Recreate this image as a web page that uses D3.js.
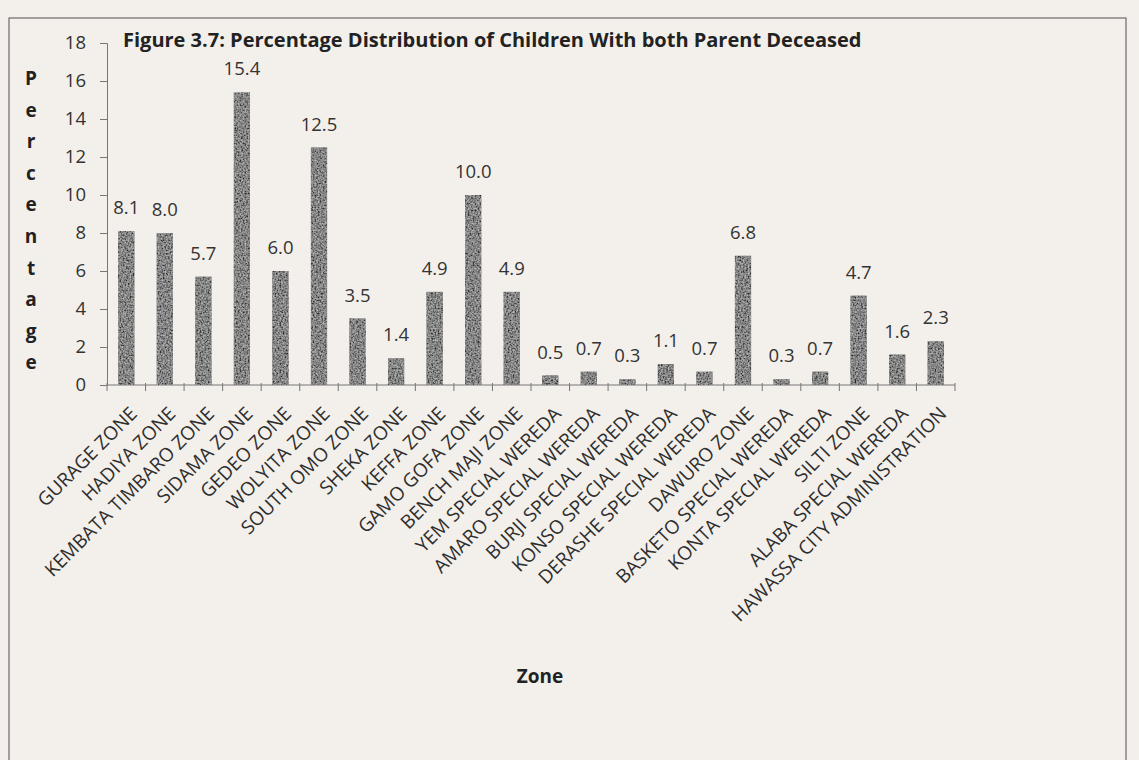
<!DOCTYPE html>
<html>
<head>
<meta charset="utf-8">
<script src="https://cdn.jsdelivr.net/npm/d3@7"></script>
<style>
  body { margin: 0; background: #f3f0eb; }
  svg { display: block; font-family: "Open Sans", sans-serif; }
</style>
</head>
<body>
<div id="chart"></div>
<script>
// zones (x categories) and their share of children with both parents deceased
var zones = ["GURAGE ZONE", "HADIYA ZONE", "KEMBATA TIMBARO ZONE", "SIDAMA ZONE",
    "GEDEO ZONE", "WOLYITA ZONE", "SOUTH OMO ZONE", "SHEKA ZONE", "KEFFA ZONE",
    "GAMO GOFA ZONE", "BENCH MAJI ZONE", "YEM SPECIAL WEREDA", "AMARO SPECIAL WEREDA",
    "BURJI SPECIAL WEREDA", "KONSO SPECIAL WEREDA", "DERASHE SPECIAL WEREDA",
    "DAWURO ZONE", "BASKETO SPECIAL WEREDA", "KONTA SPECIAL WEREDA", "SILTI ZONE",
    "ALABA SPECIAL WEREDA", "HAWASSA CITY ADMINISTRATION"];
var percents = [8.1, 8.0, 5.7, 15.4, 6.0, 12.5, 3.5, 1.4, 4.9, 10.0, 4.9,
    0.5, 0.7, 0.3, 1.1, 0.7, 6.8, 0.3, 0.7, 4.7, 1.6, 2.3];
var yTicks = [0, 2, 4, 6, 8, 10, 12, 14, 16, 18];
var yTitle = "Percentage";

var W = 1139, H = 760;
var plot = {left: 107, right: 955, top: 43, bottom: 385};

var svg = d3.select("#chart").append("svg").attr("width", W).attr("height", H);

// speckled print texture for the bars
var defs = svg.append("defs");
var f = defs.append("filter").attr("id", "grain").attr("x", 0).attr("y", 0)
    .attr("width", 1).attr("height", 1);
f.append("feTurbulence").attr("type", "fractalNoise").attr("baseFrequency", 0.6)
    .attr("numOctaves", 2).attr("seed", 3).attr("result", "noise");
f.append("feColorMatrix").attr("in", "noise").attr("type", "matrix")
    .attr("values", "1.3 0 0 0 -0.3  1.3 0 0 0 -0.3  1.3 0 0 0 -0.3  0 0 0 0 0.6")
    .attr("result", "dots");
f.append("feComposite").attr("in", "dots").attr("in2", "SourceGraphic")
    .attr("operator", "in").attr("result", "dotsIn");
f.append("feMerge").selectAll("feMergeNode").data(["SourceGraphic", "dotsIn"])
    .enter().append("feMergeNode").attr("in", String);

// outer frame
svg.append("rect").attr("x", 9).attr("y", 18).attr("width", 1117).attr("height", 760)
    .attr("fill", "none").attr("stroke", "#6a6a6a").attr("stroke-width", 1.2);

var x = d3.scaleBand().domain(zones).range([plot.left, plot.right]).paddingInner(0.58).paddingOuter(0.29);
var y = d3.scaleLinear().domain([0, 18]).range([plot.bottom, plot.top]);

// y axis
var yAxis = svg.append("g").attr("transform", "translate(" + plot.left + ",0)")
    .call(d3.axisLeft(y).tickValues(yTicks).tickSize(7).tickPadding(14).tickFormat(d3.format("d")));
yAxis.select(".domain").attr("stroke", "#777");
yAxis.selectAll(".tick line").attr("stroke", "#777");
yAxis.selectAll("text").attr("font-size", 18.5).attr("fill", "#333")
    .attr("font-family", "Open Sans");

// x axis: ticks at band boundaries
var boundaries = d3.range(zones.length + 1).map(function(i) { return plot.left + i * (plot.right - plot.left) / zones.length; });
svg.append("line").attr("x1", plot.left).attr("x2", plot.right)
    .attr("y1", plot.bottom).attr("y2", plot.bottom).attr("stroke", "#777");
svg.selectAll("line.xtick").data(boundaries).enter().append("line").attr("class", "xtick")
    .attr("x1", function(d) { return d; }).attr("x2", function(d) { return d; })
    .attr("y1", plot.bottom - 2).attr("y2", plot.bottom + 6).attr("stroke", "#777");

// bars
svg.selectAll("rect.bar").data(percents).enter().append("rect").attr("class", "bar")
    .attr("x", function(d, i) { return x(zones[i]); })
    .attr("width", x.bandwidth())
    .attr("y", function(d) { return y(d); })
    .attr("height", function(d) { return y(0) - y(d); })
    .attr("fill", "#4a4a4a")
    .attr("filter", "url(#grain)");

// value labels
svg.selectAll("text.val").data(percents).enter().append("text").attr("class", "val")
    .attr("x", function(d, i) { return x(zones[i]) + x.bandwidth() / 2; })
    .attr("y", function(d) { return y(d) - 17; })
    .attr("text-anchor", "middle").attr("font-size", 18.5).attr("fill", "#333")
    .text(function(d) { return d.toFixed(1); });

// category labels, rotated
svg.selectAll("text.cat").data(zones).enter().append("text").attr("class", "cat")
    .attr("transform", function(d) {
        return "translate(" + (x(d) + x.bandwidth() / 2 + 12) + "," + (plot.bottom + 30) + ") rotate(-45)";
    })
    .attr("text-anchor", "end").attr("font-size", 19).attr("fill", "#2e2e2e")
    .text(function(d) { return d; });

// title
svg.append("text").attr("x", 123).attr("y", 47).attr("font-size", 20).attr("font-weight", "bold")
    .attr("fill", "#222")
    .text("Figure 3.7: Percentage Distribution of Children With both Parent Deceased");

// vertical stacked y title
svg.selectAll("text.ylet").data(yTitle.split("")).enter().append("text").attr("class", "ylet")
    .attr("x", 31).attr("y", function(d, i) { return 85 + i * 31.6; })
    .attr("text-anchor", "middle").attr("font-size", 19).attr("font-weight", "bold")
    .attr("fill", "#222")
    .text(function(d) { return d; });

// x title
svg.append("text").attr("x", 540).attr("y", 683).attr("text-anchor", "middle")
    .attr("font-size", 19).attr("font-weight", "bold").attr("fill", "#222").text("Zone");
</script>
</body>
</html>
